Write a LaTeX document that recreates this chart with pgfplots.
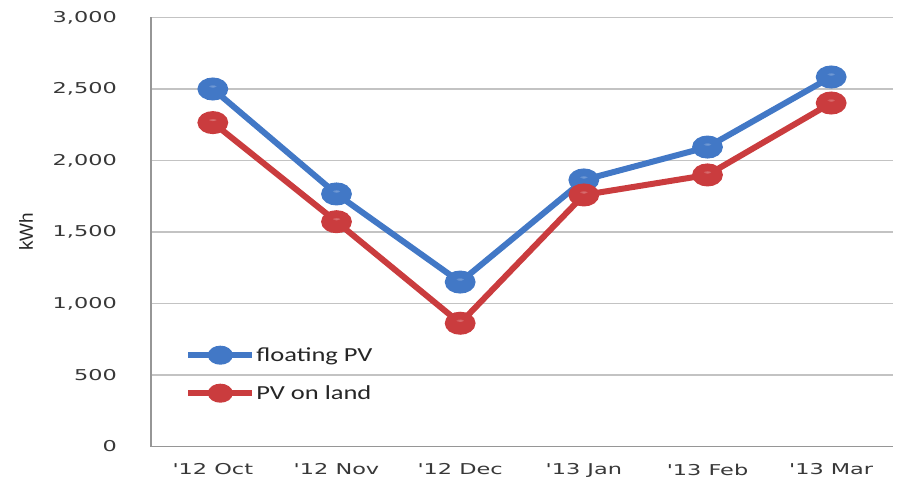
\documentclass[border=0pt]{standalone}
\usepackage{fontspec}
\usepackage{pgfplots}
\pgfplotsset{compat=1.18}
\usetikzlibrary{shadings}
\newfontfamily\tickfont[FakeStretch=1.5]{DejaVu Sans}
\newfontfamily\legfont[FakeStretch=1.33]{Carlito}
\newfontfamily\labfont{Liberation Sans}
\definecolor{fblue}{RGB}{66,120,198}
\definecolor{lred}{RGB}{202,60,62}
\definecolor{gridc}{RGB}{195,195,195}
\definecolor{axc}{RGB}{150,150,150}
\pgfdeclareplotmark{bball}{%
  \fill[fblue] (0pt,0pt) circle[radius=\pgfplotmarksize];
  \shade[inner color=fblue!72!white, outer color=fblue] (0pt,0.3\pgfplotmarksize) ellipse[x radius=0.6\pgfplotmarksize, y radius=0.5\pgfplotmarksize];}
\pgfdeclareplotmark{rball}{%
  \fill[lred] (0pt,0pt) circle[radius=\pgfplotmarksize];
  \shade[inner color=lred!72!white, outer color=lred] (0pt,0.3\pgfplotmarksize) ellipse[x radius=0.6\pgfplotmarksize, y radius=0.5\pgfplotmarksize];}
\pgfplotstableread{
x floating land
0 2500 2265
1 1766 1572
2 1150 862
3 1864 1759
4 2094 1899
5 2584 2402
}\datatab
\begin{document}
\begin{tikzpicture}
\useasboundingbox (-151bp,-36.5bp) rectangle (750bp,446.5bp);
\begin{axis}[
  scale only axis,
  width=742bp, height=429bp,
  at={(0,0)}, anchor=south west,
  xmin=-0.5, xmax=5.5, ymin=0, ymax=3000,
  xtick=data,
  xticklabels={'12 Oct,'12 Nov,'12 Dec,'13 Jan,'13 Feb,'13 Mar},
  ytick={0,500,...,3000},
  major tick length=0pt,
  axis x line*=bottom, axis y line*=left,
  axis line style={axc, line width=1.2bp, -},
  ymajorgrids,
  major grid style={gridc, line width=1.2bp},
  /pgf/number format/assume math mode=true,
  /pgf/number format/1000 sep={,},
  tick label style={font=\tickfont\fontsize{15}{15}\selectfont, text=black!78},
  yticklabel style={inner sep=0pt, anchor=east, xshift=-34bp},
  xticklabel style={inner sep=0pt, anchor=north, yshift=-17bp},
  ylabel={kWh},
  every axis y label/.style={at={(axis description cs:-0.1685,0.5)}, anchor=center, rotate=90, font=\labfont\fontsize{19}{19}\selectfont, text=black!85},
  legend style={at={(axis description cs:0.046,0.2576)}, anchor=north west, draw=none, fill=none,
    font=\legfont\fontsize{20}{20}\selectfont, text=black!85, row sep=0pt,
    inner sep=0pt, nodes={inner sep=1bp, minimum height=38bp}},
  legend cell align=left,
  legend image code/.code={
    \draw[#1, mark=none] (0bp,0bp) -- (64bp,0bp);
    \draw[#1, mark size=6.5bp] plot coordinates {(32bp,0bp)};
  },
  clip=false,
]
\addplot[fblue, line width=6bp, mark=bball, mark size=8.5bp,
  mark options={xscale=1.45}] table[x=x,y=floating]{\datatab};
\addlegendentry{floating PV}
\addplot[lred, line width=6bp, mark=rball, mark size=8.5bp,
  mark options={xscale=1.45}] table[x=x,y=land]{\datatab};
\addlegendentry{PV on land}
\end{axis}
\end{tikzpicture}
\end{document}
